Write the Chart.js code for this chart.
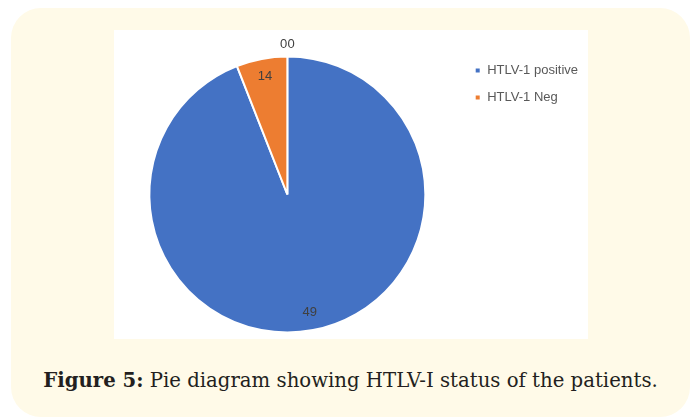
<!DOCTYPE html>
<html>
<head>
<meta charset="utf-8">
<script src="https://cdn.jsdelivr.net/npm/chart.js@4/dist/chart.umd.min.js"></script>
<style>
  html, body { margin: 0; padding: 0; background: #ffffff; }
  body { width: 692px; height: 419px; position: relative; overflow: hidden; }
  .panel {
    position: absolute; left: 11px; top: 8px; width: 679px; height: 409px;
    background: #fffae8; border-radius: 30px;
  }
  .plot {
    position: absolute; left: 114px; top: 30px; width: 474px; height: 309px;
    background: #ffffff;
  }
  .caption {
    position: absolute; left: 11px; top: 369px; width: 679px; text-align: center;
    font-family: "DejaVu Serif", serif; font-size: 19.7px; color: #231f20;
  }
  .caption b { font-weight: bold; }
</style>
</head>
<body>
<div class="panel"></div>
<div class="plot"><canvas id="myChart" width="474" height="309"></canvas></div>
<div class="caption"><b>Figure 5:</b> Pie diagram showing HTLV-I status of the patients.</div>
<script>
// slice sizes as drawn in the picture, and the numbers printed on them
const categories = ['HTLV-1 positive', 'HTLV-1 Neg', '', ''];
const sliceValues = [49, 3.1, 0, 0];
const printedLabels = ['49', '14', '0', '0'];
const sliceColors = ['#4472c4', '#ed7d31', '#a5a5a5', '#ffc000'];

// draw the data labels like Excel's "inside end"
const pieLabels = {
    id: 'pieLabels',
    afterDatasetsDraw(chart) {
        const ctx = chart.ctx;
        const meta = chart.getDatasetMeta(0);
        ctx.save();
        ctx.font = '13px "Liberation Sans", sans-serif';
        ctx.fillStyle = '#404040';
        ctx.textAlign = 'center';
        ctx.textBaseline = 'middle';
        const zeros = [];
        meta.data.forEach((arc, i) => {
            const p = arc.getProps(['x', 'y', 'startAngle', 'endAngle', 'outerRadius'], true);
            const mid = (p.startAngle + p.endAngle) / 2;
            if (sliceValues[i] === 0) {
                zeros.push({ p, mid, i });
                return;
            }
            const r = p.outerRadius * 0.87;
            ctx.fillText(printedLabels[i], p.x + Math.cos(mid) * r, p.y + Math.sin(mid) * r);
        });
        // zero slices sit on top of each other outside the pie
        zeros.forEach((z, k) => {
            const r = z.p.outerRadius + 12;
            const off = (k - (zeros.length - 1) / 2) * 7.5;
            ctx.fillText(printedLabels[z.i], z.p.x + Math.cos(z.mid) * r + off, z.p.y + Math.sin(z.mid) * r);
        });
        ctx.restore();
    }
};

const ctx = document.getElementById('myChart').getContext('2d');
const myChart = new Chart(ctx, {
    type: 'pie',
    data: {
        labels: categories,
        datasets: [{
            data: sliceValues,
            backgroundColor: sliceColors,
            borderColor: '#ffffff',
            borderWidth: 2,
            radius: 138
        }]
    },
    options: {
        responsive: false,
        animation: false,
        layout: {
            padding: { top: 20, bottom: 0, left: 0, right: 0 }
        },
        plugins: {
            tooltip: { enabled: false },
            legend: {
                display: true,
                position: 'right',
                align: 'start',
                labels: {
                    boxWidth: 6,
                    boxHeight: 6,
                    padding: 14,
                    color: '#595959',
                    font: { size: 13, family: '"Liberation Sans", sans-serif' },
                    filter: item => item.text !== ''
                }
            }
        }
    },
    plugins: [pieLabels]
});
</script>
</body>
</html>
